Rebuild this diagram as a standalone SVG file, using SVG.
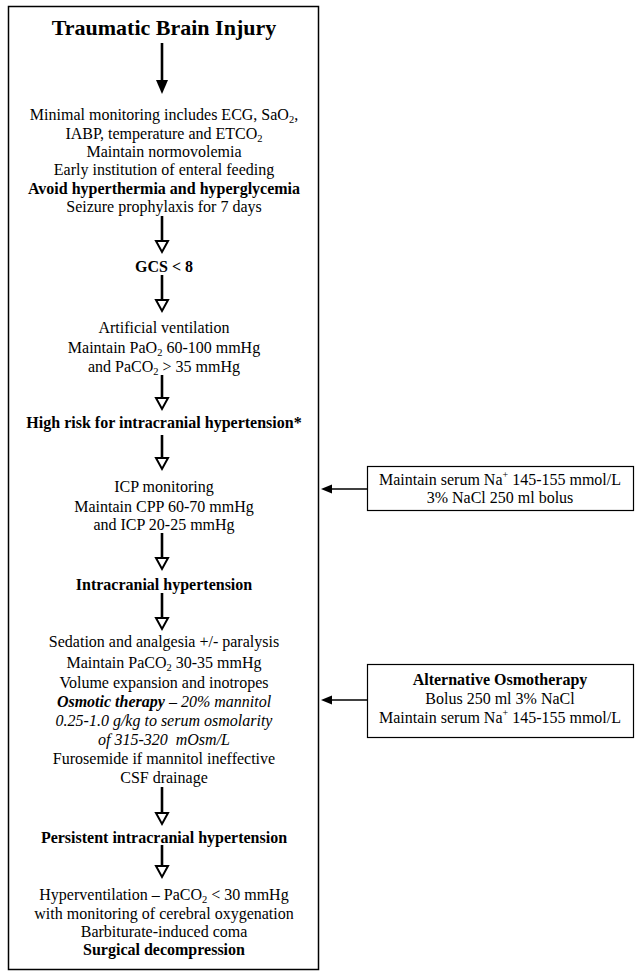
<svg xmlns="http://www.w3.org/2000/svg" width="636" height="974" viewBox="0 0 636 974">
<style>
text{font-family:"Liberation Serif","Times New Roman",serif;font-size:16px;fill:#000;text-anchor:middle}
.b{font-weight:bold}
.i{font-style:italic}
.t{font-size:22px;font-weight:bold}
.sub{font-size:10.5px}
.box{fill:#fff;stroke:#000;stroke-width:1.5}
.sbox{fill:#fff;stroke:#000;stroke-width:1.2}
.shaft{stroke:#000;stroke-width:2.6;fill:none}
.open{fill:#fff;stroke:#000;stroke-width:2;stroke-linejoin:miter}
.fill{fill:#000;stroke:none}
.side{stroke:#000;stroke-width:1.4;fill:none}
</style>
<rect x="0" y="0" width="636" height="974" fill="#fff"/>
<g id="main-frame"><rect class="box" x="8.5" y="6.5" width="310" height="963"/></g>

<g id="n-title"><text class="t" x="164" y="35">Traumatic Brain Injury</text></g>
<g id="n-monitoring">
<text x="164" y="120">Minimal monitoring includes ECG, SaO<tspan class="sub" dy="3">2</tspan><tspan dy="-3">,</tspan></text>
<text x="164" y="139">IABP, temperature and ETCO<tspan class="sub" dy="3">2</tspan></text>
<text x="164" y="157">Maintain normovolemia</text>
<text x="164" y="175">Early institution of enteral feeding</text>
<text class="b" x="164" y="194">Avoid hyperthermia and hyperglycemia</text>
<text x="164" y="212">Seizure prophylaxis for 7 days</text>
</g>
<g id="n-gcs"><text class="b" x="164" y="272">GCS &lt; 8</text></g>
<g id="n-ventilation">
<text x="164" y="333">Artificial ventilation</text>
<text x="164" y="353">Maintain PaO<tspan class="sub" dy="3">2</tspan><tspan dy="-3"> 60-100 mmHg</tspan></text>
<text x="164" y="372">and PaCO<tspan class="sub" dy="3">2</tspan><tspan dy="-3"> &gt; 35 mmHg</tspan></text>
</g>
<g id="n-highrisk"><text class="b" x="164" y="428">High risk for intracranial hypertension*</text></g>
<g id="n-icp">
<text x="164" y="492">ICP monitoring</text>
<text x="164" y="512">Maintain CPP 60-70 mmHg</text>
<text x="164" y="530">and ICP 20-25 mmHg</text>
</g>
<g id="n-ich"><text class="b" x="164" y="590">Intracranial hypertension</text></g>
<g id="n-sedation">
<text x="164" y="647">Sedation and analgesia +/- paralysis</text>
<text x="164" y="668">Maintain PaCO<tspan class="sub" dy="3">2</tspan><tspan dy="-3"> 30-35 mmHg</tspan></text>
<text x="164" y="688">Volume expansion and inotropes</text>
<text class="i" x="164" y="707"><tspan class="b">Osmotic therapy</tspan> – 20% mannitol</text>
<text class="i" x="164" y="726">0.25-1.0 g/kg to serum osmolarity</text>
<text class="i" x="164" y="745">of 315-320 &#160;mOsm/L</text>
<text x="164" y="764">Furosemide if mannitol ineffective</text>
<text x="164" y="783">CSF drainage</text>
</g>
<g id="n-persistent"><text class="b" x="164" y="843">Persistent intracranial hypertension</text></g>
<g id="n-final">
<text x="164" y="900">Hyperventilation – PaCO<tspan class="sub" dy="3">2</tspan><tspan dy="-3"> &lt; 30 mmHg</tspan></text>
<text x="164" y="919">with monitoring of cerebral oxygenation</text>
<text x="164" y="937">Barbiturate-induced coma</text>
<text class="b" x="164" y="955">Surgical decompression</text>
</g>

<g id="n-sodium">
<rect class="sbox" x="367.5" y="466.5" width="266" height="44"/>
<text x="500" y="485">Maintain serum Na<tspan font-size="10" dy="-7">+</tspan><tspan dy="7"> 145-155 mmol/L</tspan></text>
<text x="500" y="503">3% NaCl 250 ml bolus</text>
</g>
<g id="n-altosmo">
<rect class="sbox" x="367.5" y="664.5" width="266" height="73"/>
<text class="b" x="500" y="685">Alternative Osmotherapy</text>
<text x="500" y="704">Bolus 250 ml 3% NaCl</text>
<text x="500" y="723">Maintain serum Na<tspan font-size="10" dy="-7">+</tspan><tspan dy="7"> 145-155 mmol/L</tspan></text>
</g>

<g id="connectors">
<line class="shaft" x1="162" y1="43" x2="162" y2="82"/>
<polygon class="fill" points="156,80 168,80 162,94"/>
<line class="shaft" x1="162" y1="216" x2="162" y2="241"/>
<polygon class="open" points="156,241 168,241 162,252"/>
<line class="shaft" x1="162" y1="275" x2="162" y2="300"/>
<polygon class="open" points="156,300 168,300 162,311"/>
<line class="shaft" x1="162" y1="375" x2="162" y2="398"/>
<polygon class="open" points="156,398 168,398 162,409"/>
<line class="shaft" x1="162" y1="435" x2="162" y2="458"/>
<polygon class="open" points="156,458 168,458 162,469"/>
<line class="shaft" x1="162" y1="533" x2="162" y2="558"/>
<polygon class="open" points="156,558 168,558 162,569"/>
<line class="shaft" x1="162" y1="593" x2="162" y2="618"/>
<polygon class="open" points="156,618 168,618 162,629"/>
<line class="shaft" x1="162" y1="787" x2="162" y2="813"/>
<polygon class="open" points="156,813 168,813 162,824"/>
<line class="shaft" x1="162" y1="845" x2="162" y2="866"/>
<polygon class="open" points="156,866 168,866 162,877"/>
<line class="side" x1="367" y1="489" x2="330" y2="489"/>
<polygon class="fill" points="321,489 332,484.5 332,493.5"/>
<line class="side" x1="367" y1="700" x2="330" y2="700"/>
<polygon class="fill" points="321,700 332,695.5 332,704.5"/>
</g>
</svg>
